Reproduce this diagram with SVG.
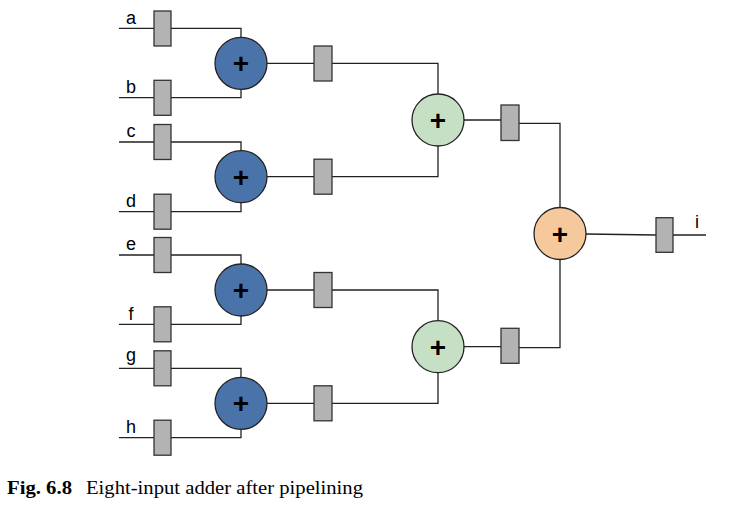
<svg xmlns="http://www.w3.org/2000/svg" width="732" height="532" viewBox="0 0 732 532">
<style>
.w{fill:none;stroke:#222;stroke-width:1.3}
.reg{fill:#b3b3b3;stroke:#333;stroke-width:1.3}
.blue{fill:#4a74a9;stroke:#222;stroke-width:1.3}
.green{fill:#c6e0c6;stroke:#222;stroke-width:1.3}
.orange{fill:#f5c99b;stroke:#222;stroke-width:1.3}
.plus{font-family:"Liberation Sans",Arial,sans-serif;font-weight:bold;font-size:28px;text-anchor:middle;fill:#000}
.lbl{font-family:"Liberation Sans",Arial,sans-serif;font-size:18px;text-anchor:middle;fill:#000}
.cap{font-family:"Liberation Serif","Times New Roman",serif;font-size:19px;fill:#000}
</style>
<rect width="732" height="532" fill="#fff"/>
<g id="connectors">
<path class="w" d="M119 28.3H154M119 97.7H154M119 142H154M119 211.7H154M119 255H154M119 324.3H154M119 368.3H154M119 437.7H154"/>
<path class="w" d="M171 28.3H241V37.3M171 97.7H241V89.3"/>
<path class="w" d="M171 142H241V150.7M171 211.7H241V202.7"/>
<path class="w" d="M171 255H241V264M171 324.3H241V316"/>
<path class="w" d="M171 368.3H241V377.3M171 437.7H241V429.3"/>
<path class="w" d="M267 63.3H314M332 63.3H438V94M267 176.7H314M332 176.7H438V146"/>
<path class="w" d="M267 290H314M332 290H438V320.7M267 403.3H314M332 403.3H438V372.7"/>
<path class="w" d="M464 120H501M519 123.3H560V207.3M464 346.7H501M519 347.7H560V259.3"/>
<path class="w" d="M586 234L656 235M673 235H706"/>
</g>
<g id="reg_a"><rect class="reg" x="154" y="11" width="17" height="35"/><text class="lbl" x="131" y="24">a</text></g>
<g id="reg_b"><rect class="reg" x="154" y="80.3" width="17" height="35"/><text class="lbl" x="131" y="93">b</text></g>
<g id="reg_c"><rect class="reg" x="154" y="124.5" width="17" height="35"/><text class="lbl" x="131" y="137">c</text></g>
<g id="reg_d"><rect class="reg" x="154" y="194.2" width="17" height="35"/><text class="lbl" x="131" y="207">d</text></g>
<g id="reg_e"><rect class="reg" x="154" y="237.5" width="17" height="35"/><text class="lbl" x="131" y="250">e</text></g>
<g id="reg_f"><rect class="reg" x="154" y="306.8" width="17" height="35"/><text class="lbl" x="131" y="319.5">f</text></g>
<g id="reg_g"><rect class="reg" x="154" y="350.8" width="17" height="35"/><text class="lbl" x="131" y="360.5">g</text></g>
<g id="reg_h"><rect class="reg" x="154" y="420.2" width="17" height="35"/><text class="lbl" x="131" y="433">h</text></g>
<g id="add1"><circle class="blue" cx="241" cy="63.3" r="26"/><text class="plus" x="241" y="73.3">+</text></g>
<g id="add2"><circle class="blue" cx="241" cy="176.7" r="26"/><text class="plus" x="241" y="186.7">+</text></g>
<g id="add3"><circle class="blue" cx="241" cy="290" r="26"/><text class="plus" x="241" y="300">+</text></g>
<g id="add4"><circle class="blue" cx="241" cy="403.3" r="26"/><text class="plus" x="241" y="413.3">+</text></g>
<g id="reg_s2a"><rect class="reg" x="314" y="46" width="18" height="35"/></g>
<g id="reg_s2b"><rect class="reg" x="314" y="159.2" width="18" height="35"/></g>
<g id="reg_s2c"><rect class="reg" x="314" y="272.5" width="18" height="35"/></g>
<g id="reg_s2d"><rect class="reg" x="314" y="385.8" width="18" height="35"/></g>
<g id="add5"><circle class="green" cx="438" cy="120" r="26"/><text class="plus" x="438" y="130">+</text></g>
<g id="add6"><circle class="green" cx="438" cy="346.7" r="26"/><text class="plus" x="438" y="356.7">+</text></g>
<g id="reg_s3a"><rect class="reg" x="501" y="105" width="18" height="35.5"/></g>
<g id="reg_s3b"><rect class="reg" x="501" y="328.3" width="18" height="35"/></g>
<g id="add7"><circle class="orange" cx="560" cy="233.5" r="26"/><text class="plus" x="560" y="243.5">+</text></g>
<g id="reg_out"><rect class="reg" x="656" y="217.7" width="17" height="34.6"/><text class="lbl" x="697" y="228">i</text></g>
<g id="caption">
<text class="cap" x="7" y="494" font-weight="bold" textLength="65" lengthAdjust="spacingAndGlyphs">Fig. 6.8</text>
<text class="cap" x="86" y="494" textLength="277" lengthAdjust="spacingAndGlyphs">Eight-input adder after pipelining</text>
</g>
</svg>
